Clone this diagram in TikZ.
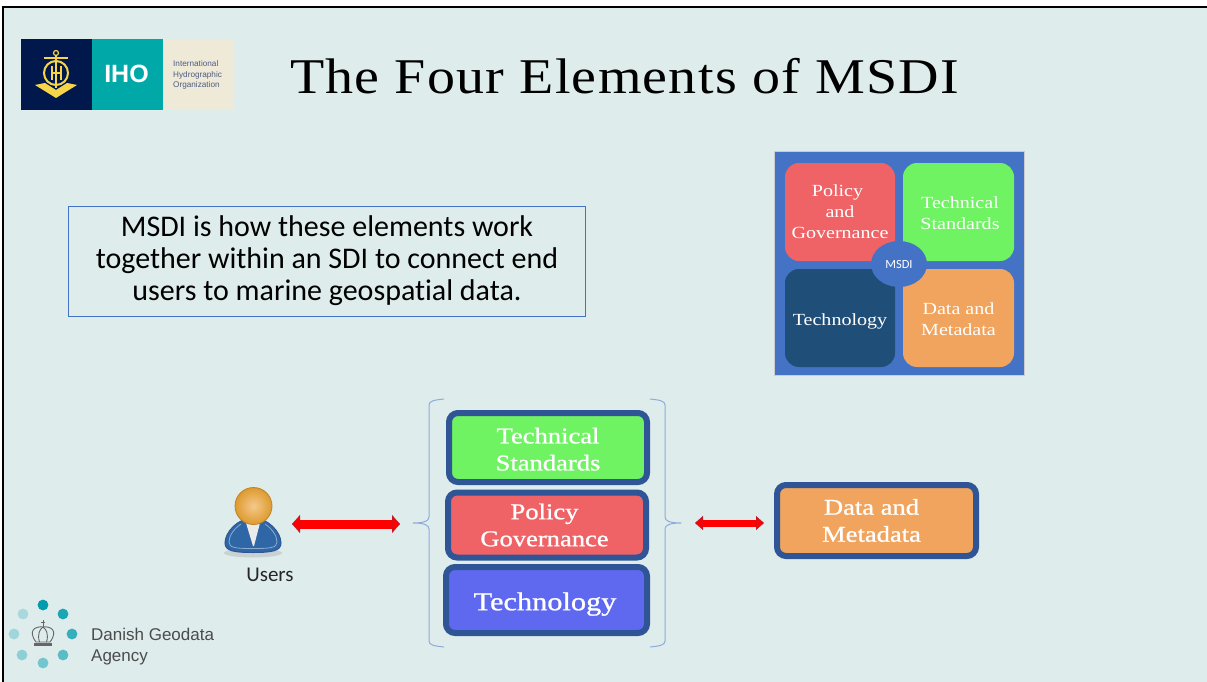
\documentclass[tikz,border=0pt]{standalone}
\usepackage{fontspec}
\setmainfont[Ligatures=NoCommon]{Carlito}
\newfontfamily\titlefont[FakeStretch=1.12,LetterSpace=2.5]{Liberation Serif}
\newfontfamily\boxfont[FakeStretch=1.18]{Liberation Serif}
\newfontfamily\boxboldfont[FakeStretch=1.18,FakeBold=1]{Liberation Serif}
\newfontfamily\logofont{Liberation Sans}
\usepackage{xcolor}
\usetikzlibrary{arrows.meta,positioning,calc,shapes.geometric}
\definecolor{slidebg}{HTML}{DEECEC}
\definecolor{frameblue}{HTML}{4472C4}
\definecolor{boxedge}{HTML}{2F5597}
\definecolor{tilered}{HTML}{EF6366}
\definecolor{tilegreen}{HTML}{6FF363}
\definecolor{tileorange}{HTML}{F0A45E}
\definecolor{tiledark}{HTML}{1F4E79}
\definecolor{tileblue}{HTML}{5F69F0}
\definecolor{bracecol}{HTML}{8FAADC}
\definecolor{ihonavy}{HTML}{00184C}
\definecolor{ihoteal}{HTML}{00A9A8}
\definecolor{ihosand}{HTML}{EFE9D8}
\definecolor{ihogold}{HTML}{F6D648}
\definecolor{dotteal}{HTML}{009CAD}
\definecolor{headout}{HTML}{DE9A2E}
\definecolor{headin}{HTML}{F4C98C}
\definecolor{userblue}{HTML}{2F66A6}
\colorlet{tipedge}{red!55!boxedge}
\tikzset{
  tile/.style={rounded corners=14pt,text=white,align=center,inner sep=0pt,font=\boxfont\fontsize{17}{21}\selectfont},
  element/.style={rounded corners=9pt,draw=boxedge,line width=6pt,text=white,align=center,inner sep=0pt,font=\boxboldfont\fontsize{22.5}{27}\selectfont},
  redlink/.style={red,line width=#1,{Triangle[length=8pt,width=2*#1,color=tipedge,fill=red,line width=.4pt]}-{Triangle[length=8pt,width=2*#1,color=tipedge,fill=red,line width=.4pt]}},
  bracket/.style={draw=bracecol,line width=1pt,line join=round}
}
\begin{document}
\begin{tikzpicture}[x=1pt,y=-1pt]
  \useasboundingbox (0,0) rectangle (1207,682);
  % slide
  \fill[white] (0,0) rectangle (1207,682);
  \fill[slidebg] (3,7) rectangle (1207,682);
  \draw[black,line width=2pt] (3,682) -- (3,7) -- (1207,7);
  % IHO logo
  \fill[ihonavy] (21,39) rectangle (92,110);
  \fill[ihoteal] (92,39) rectangle (163,110);
  \fill[ihosand] (163,39) rectangle (234,110);
  \begin{scope}[draw=ihogold,fill=ihogold]
    \draw[line width=1.2pt] (56,53) circle (2.5);
    \draw[line width=2.4pt] (44,58) -- (68,58);
    \draw[line width=2pt] (56,73) circle (12);
    \draw[line width=1.4pt] (56,56) -- (56,88);
    \draw[line width=2pt] (51.5,66) -- (51.5,80) (60.5,66) -- (60.5,80) (51.5,73) -- (60.5,73);
    \fill (35,85) -- (45,83) -- (56,90) -- (67,83) -- (77,85) -- (56,98) -- cycle;
  \end{scope}
  \node[text=white,font=\logofont\bfseries\fontsize{25}{25}\selectfont] (ihoname) at (126.5,73.5) {IHO};
  \node[anchor=west,text=ihonavy!70,align=left,inner sep=0pt,font=\logofont\fontsize{8.2}{10.3}\selectfont] (ihotext) at (173,75) {International\\Hydrographic\\Organization};
  % title
  \node[font=\titlefont\fontsize{50}{50}\selectfont] (title) at (624.5,76) {The Four Elements of MSDI};
  % text box
  \node[draw=frameblue,line width=.8pt,minimum width=517pt,minimum height=110pt,inner sep=0pt,align=center,font=\fontsize{30}{32}\selectfont] (msdinote) at (327,261.5) {MSDI is how these elements work\\together within an SDI to connect end\\users to marine geospatial data.\rule[-7pt]{0pt}{1pt}};
  % square with four tiles
  \fill[frameblue,draw=black!20,line width=.6pt] (774,151) rectangle (1024,375);
  \node[tile,fill=tilered,minimum width=110pt,minimum height=98pt] (policytile) at (840,212) {Policy\hspace*{5pt}\\and\\Governance};
  \node[tile,fill=tilegreen,minimum width=111pt,minimum height=98pt] (standardstile) at (958.5,212) {\rule{0pt}{14pt}\hspace*{3pt}Technical\\\hspace*{3pt}Standards};
  \node[tile,fill=tiledark,minimum width=110pt,minimum height=98pt] (technologytile) at (840,318) {\rule{0pt}{18pt}Technology};
  \node[tile,fill=tileorange,minimum width=111pt,minimum height=98pt] (datatile) at (958.5,318) {\rule{0pt}{15pt}Data and\\Metadata};
  \node[ellipse,fill=frameblue,text=white,minimum width=56pt,minimum height=46pt,inner sep=0pt,font=\fontsize{12.5}{12.5}\selectfont] (msdi) at (899,264) {MSDI};
  % user
  \fill[black!30,opacity=.45] (253,553) ellipse (29 and 4.5);
  \draw[boxedge,fill=userblue,line width=1pt] (253,518) .. controls (268,518) and (281,532) .. (281,543) .. controls (281,551) and (272,552.5) .. (253,552.5) .. controls (234,552.5) and (225,551) .. (225,543) .. controls (225,532) and (238,518) .. (253,518) -- cycle;
  \draw[userblue!55!white,line width=.8pt] (253,548.5) .. controls (236,548.5) and (229,548) .. (229,542) .. controls (229,535) and (235,528) .. (241,524) (253,548.5) .. controls (270,548.5) and (277,548) .. (277,542) .. controls (277,535) and (271,528) .. (265,524);
  \fill[white!92!black] (246,523) -- (260,523) -- (254,546) -- (253,546) -- cycle;
  \shade[inner color=headin,outer color=headout,draw=headout!85!black,line width=.8pt] (253.5,506) circle (18.5);
  \node[font=\fontsize{21}{21}\selectfont,text=black!85] (users) at (270,574.5) {Users};
  \coordinate (userend) at (292,524);
  % middle stack
  \draw[bracket] (444,399) .. controls (434,400) and (429,401) .. (429,405) -- (429,517) .. controls (429,521) and (424,523) .. (413,523) .. controls (424,523) and (429,525) .. (429,529) -- (429,641) .. controls (429,645) and (434,646) .. (444,647);
  \coordinate (leftbrace) at (400,524);
  \draw[bracket] (650,399) .. controls (660,400) and (665,401) .. (665,405) -- (665,517) .. controls (665,521) and (670,523) .. (681,523) .. controls (670,523) and (665,525) .. (665,529) -- (665,641) .. controls (665,645) and (660,646) .. (650,647);
  \coordinate (rightbrace) at (695,523);
  \node[element,fill=tilegreen,minimum width=198pt,minimum height=69pt] (standards) at (548,447.5) {\rule{0pt}{19pt}Technical\\Standards};
  \node[element,fill=tilered,minimum width=198pt,minimum height=65pt] (policy) at (547,525) {Policy\hspace*{5pt}\\Governance\hspace*{5pt}};
  \node[element,fill=tileblue,minimum width=201pt,minimum height=66pt,font=\boxboldfont\fontsize{25.7}{30}\selectfont] (technology) at (546.5,600) {\rule{0pt}{26pt}Technology\hspace*{3pt}};
  \node[element,fill=tileorange,minimum width=199pt,minimum height=71pt] (data) at (876.5,520.5) {Data and\hspace*{10pt}\\Metadata\hspace*{10pt}};
  \coordinate (dataend) at (764,523);
  \draw[redlink=9pt] (userend) -- (leftbrace);
  \draw[redlink=7pt] (rightbrace) -- (dataend);
  % agency logo
  \foreach \px/\py/\pale in {43/605/100,63/614/88,72/634/76,63/655/60,43/663/48,22/655/36,14/634/28,23/614/24}
    \fill[dotteal!\pale!slidebg] (\px,\py) circle (5.4);
  \begin{scope}[draw=black!60,line width=.9pt]
    \draw (43,620) -- (43,627) (41,622.5) -- (45,622.5);
    \draw (36,642) .. controls (27,630) and (36,626) .. (43,627) .. controls (50,626) and (59,630) .. (50,642) -- cycle;
    \draw (39.5,642) .. controls (37,634) and (40,629) .. (43,627) .. controls (46,629) and (49,634) .. (46.5,642);
    \draw[line width=2.2pt] (34,644.5) -- (52,644.5);
  \end{scope}
  \node[anchor=west,text=black!70,align=left,inner sep=0pt,font=\logofont\fontsize{17}{21}\selectfont] (agency) at (91,646.5) {Danish Geodata\\Agency};
\end{tikzpicture}
\end{document}
